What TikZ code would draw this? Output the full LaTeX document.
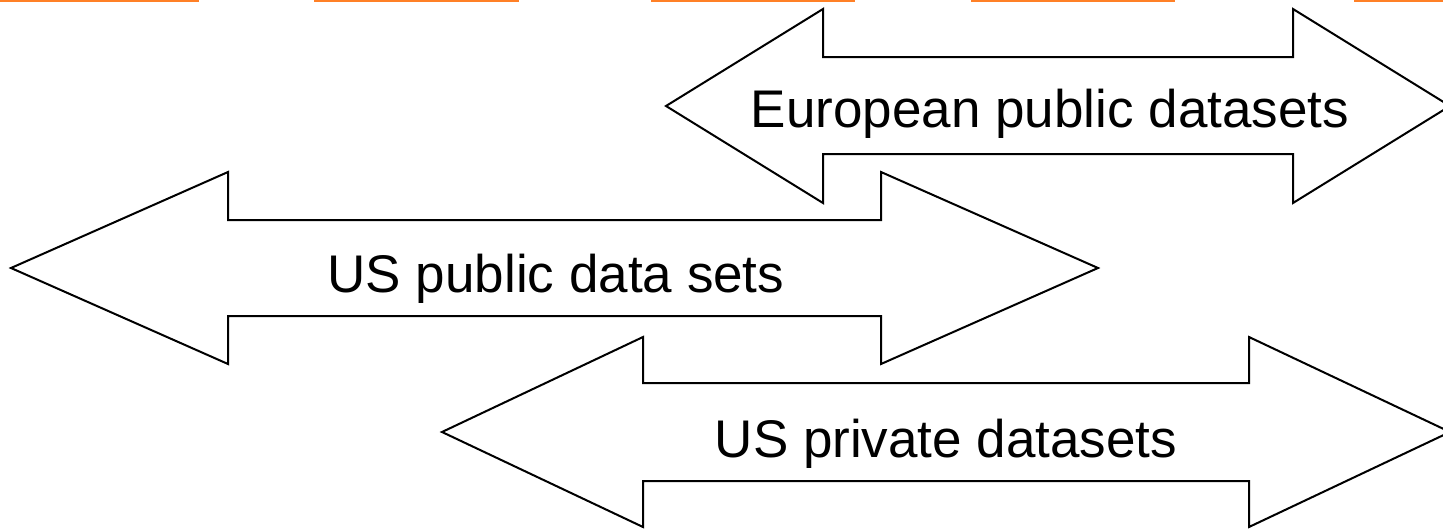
\documentclass[tikz,border=0pt]{standalone}
\usepackage{fontspec}
\setmainfont{Liberation Sans}
\definecolor{ruleorange}{RGB}{255,128,38}
\tikzset{
arrowshape/.style={draw=black, fill=white, line width=2pt, line join=miter},
arrowlabel/.style={inner sep=0pt, anchor=base, font=\fontsize{53}{60}\selectfont},
topdash/.style={draw=ruleorange, line width=2.2pt}}

\begin{document}
\begin{tikzpicture}[x=1pt,y=-1pt]
    \useasboundingbox (0,0) rectangle (1443,530);

                \draw[topdash] (0,1) -- (199,1);
                \draw[topdash] (314,1) -- (519,1);
                \draw[topdash] (651,1) -- (855,1);
                \draw[topdash] (971,1) -- (1175,1);
                \draw[topdash] (1354,1) -- (1443,1);

                \draw[arrowshape] (666,106) -- (823,9) -- (823,57) -- (1293,57) -- (1293,9) -- (1450,106)
                    -- (1293,203) -- (1293,154) -- (823,154) -- (823,203) -- cycle;
                \draw[arrowshape] (11,268) -- (228,172) -- (228,220) -- (881,220) -- (881,172) -- (1098,268)
                    -- (881,364) -- (881,316) -- (228,316) -- (228,364) -- cycle;
                \draw[arrowshape] (442,432) -- (643,337) -- (643,383) -- (1249,383) -- (1249,337) -- (1450,432)
                    -- (1249,527) -- (1249,481) -- (643,481) -- (643,527) -- cycle;

                \node[arrowlabel] (europublic) at (1050,127) {European public datasets};
                \node[arrowlabel] (uspublic) at (556,292) {US public data sets};
                \node[arrowlabel] (usprivate) at (946,457) {US private datasets};

            \end{tikzpicture}
\end{document}
